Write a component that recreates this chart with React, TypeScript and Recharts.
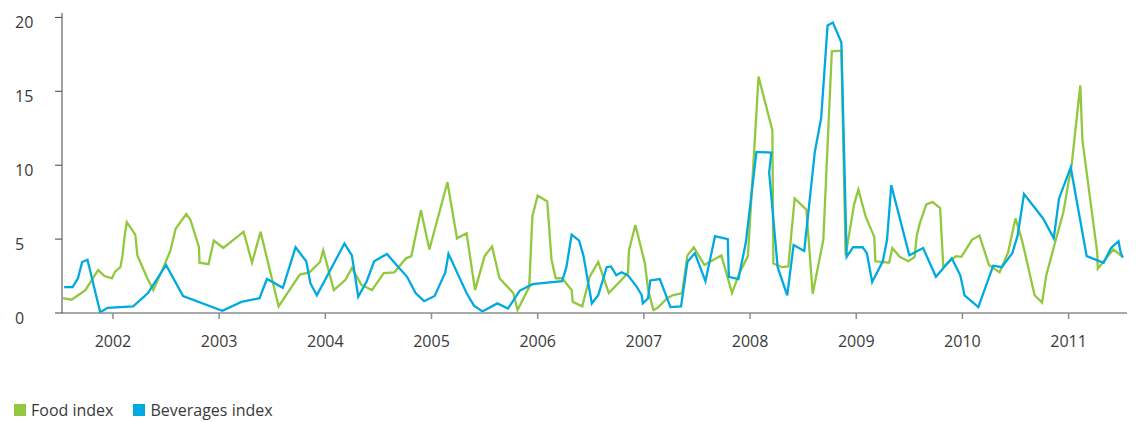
import { LineChart, Line, XAxis, YAxis, Legend } from "recharts";

const yearTicks = [2002, 2003, 2004, 2005, 2006, 2007, 2008, 2009, 2010, 2011];
const valueTicks = [0, 5, 10, 15, 20];

const seriesNames = ["Food index", "Beverages index"];
const seriesColors = ["#92c83e", "#00a9e0"];

// dates as decimal years
const foodDates = [
  2001.53, 2001.61, 2001.74, 2001.86, 2001.92, 2001.99, 2002.02, 2002.07, 2002.09, 2002.11,
  2002.13, 2002.21, 2002.23, 2002.32, 2002.38, 2002.47, 2002.54, 2002.59, 2002.69, 2002.73,
  2002.81, 2002.815, 2002.9, 2002.95, 2003.04, 2003.23, 2003.31, 2003.39, 2003.56, 2003.76,
  2003.85, 2003.95, 2003.98, 2004.08, 2004.19, 2004.25, 2004.34, 2004.44, 2004.55, 2004.65,
  2004.76, 2004.81, 2004.9, 2004.98, 2005.15, 2005.24, 2005.33, 2005.41, 2005.5, 2005.57,
  2005.64, 2005.77, 2005.81, 2005.92, 2005.95, 2006.0, 2006.09, 2006.13, 2006.17, 2006.23,
  2006.32, 2006.33, 2006.42, 2006.49, 2006.57, 2006.67, 2006.85, 2006.86, 2006.92, 2007.01,
  2007.04, 2007.09, 2007.13, 2007.22, 2007.27, 2007.36, 2007.41, 2007.47, 2007.57, 2007.73,
  2007.83, 2007.9, 2007.98, 2008.08, 2008.21, 2008.22, 2008.3, 2008.36, 2008.42, 2008.53,
  2008.55, 2008.59, 2008.69, 2008.77, 2008.86, 2008.9, 2008.98, 2009.02, 2009.09, 2009.17,
  2009.18, 2009.31, 2009.34, 2009.41, 2009.49, 2009.55, 2009.57, 2009.6, 2009.66, 2009.72,
  2009.79, 2009.82, 2009.85, 2009.94, 2009.99, 2010.09, 2010.16, 2010.25, 2010.35, 2010.43,
  2010.5, 2010.56, 2010.68, 2010.75, 2010.79, 2010.87, 2010.95, 2011.03, 2011.11, 2011.13,
  2011.27, 2011.275, 2011.32, 2011.42, 2011.51
];
const foodValues = [
  1.0, 0.9, 1.55, 2.9, 2.5, 2.35, 2.8, 3.1, 3.9, 5.2,
  6.15, 5.3, 3.9, 2.4, 1.55, 3.0, 4.2, 5.7, 6.7, 6.3,
  4.45, 3.4, 3.3, 4.9, 4.4, 5.5, 3.4, 5.5, 0.45, 2.6,
  2.75, 3.45, 4.25, 1.55, 2.25, 3.05, 1.9, 1.55, 2.7, 2.75,
  3.7, 3.85, 6.95, 4.3, 8.85, 5.05, 5.4, 1.55, 3.85, 4.5,
  2.35, 1.35, 0.2, 1.75, 6.55, 7.95, 7.55, 3.6, 2.35, 2.35,
  1.55, 0.75, 0.45, 2.45, 3.45, 1.35, 2.7, 4.25, 5.95, 3.35,
  1.55, 0.2, 0.35, 1.0, 1.2, 1.35, 3.9, 4.45, 3.25, 3.9,
  1.35, 2.7, 3.85, 16.0, 12.35, 3.35, 3.1, 3.15, 7.75, 7.0,
  5.15, 1.3, 4.95, 17.7, 17.75, 3.9, 7.35, 8.35, 6.5, 5.15,
  3.5, 3.4, 4.4, 3.8, 3.5, 3.8, 5.25, 6.1, 7.35, 7.5,
  7.1, 3.1, 3.3, 3.85, 3.8, 4.95, 5.25, 3.25, 2.75, 4.1,
  6.4, 4.95, 1.2, 0.7, 2.55, 4.7, 6.8, 10.1, 15.4, 11.7,
  4.05, 3.0, 3.4, 4.3, 3.8
];

const beverageDates = [
  2001.54, 2001.62, 2001.67, 2001.71, 2001.76, 2001.88, 2001.95, 2002.19, 2002.33, 2002.5,
  2002.66, 2003.03, 2003.21, 2003.38, 2003.45, 2003.6, 2003.72, 2003.82, 2003.86, 2003.92,
  2004.18, 2004.25, 2004.31, 2004.39, 2004.46, 2004.58, 2004.67, 2004.77, 2004.85, 2004.93,
  2005.03, 2005.13, 2005.16, 2005.33, 2005.4, 2005.48, 2005.62, 2005.72, 2005.83, 2005.95,
  2006.23, 2006.27, 2006.32, 2006.39, 2006.43, 2006.51, 2006.57, 2006.65, 2006.69, 2006.74,
  2006.79, 2006.85, 2006.93, 2006.98, 2006.99, 2007.04, 2007.06, 2007.15, 2007.25, 2007.35,
  2007.41, 2007.48, 2007.58, 2007.67, 2007.79, 2007.8, 2007.89, 2007.96, 2008.06, 2008.2,
  2008.18, 2008.26, 2008.35, 2008.41, 2008.51, 2008.61, 2008.67, 2008.73, 2008.78, 2008.86,
  2008.91, 2008.97, 2009.06, 2009.1, 2009.15, 2009.25, 2009.29, 2009.33, 2009.5, 2009.63,
  2009.75, 2009.9, 2009.98, 2010.02, 2010.15, 2010.29, 2010.37, 2010.47, 2010.52, 2010.58,
  2010.76, 2010.86, 2010.91, 2011.02, 2011.17, 2011.33, 2011.4, 2011.47, 2011.49, 2011.51
];
const beverageValues = [
  1.75, 1.75, 2.35, 3.45, 3.6, 0.05, 0.35, 0.45, 1.35, 3.25,
  1.15, 0.15, 0.75, 1.0, 2.3, 1.7, 4.45, 3.5, 2.0, 1.2,
  4.7, 3.9, 1.1, 2.15, 3.5, 4.0, 3.25, 2.45, 1.35, 0.8,
  1.15, 2.75, 4.0, 1.35, 0.5, 0.1, 0.65, 0.3, 1.5, 1.95,
  2.15, 3.1, 5.3, 4.9, 3.9, 0.65, 1.2, 3.1, 3.15, 2.55,
  2.75, 2.55, 1.8, 1.2, 0.65, 1.0, 2.2, 2.3, 0.4, 0.45,
  3.45, 4.05, 2.15, 5.2, 5.0, 2.45, 2.3, 4.75, 10.9, 10.85,
  9.5, 3.1, 1.2, 4.6, 4.2, 10.9, 13.2, 19.45, 19.65, 18.3,
  3.8, 4.45, 4.45, 4.05, 2.1, 3.5, 4.95, 8.65, 3.9, 4.4,
  2.45, 3.7, 2.55, 1.2, 0.4, 3.2, 3.1, 4.05, 5.25, 8.05,
  6.4, 5.05, 7.75, 9.85, 3.85, 3.4, 4.4, 4.85, 4.1, 3.75
];

const foodData = foodDates.map((t, i) => ({ t, v: foodValues[i] }));
const beverageData = beverageDates.map((t, i) => ({ t, v: beverageValues[i] }));

const FONT = "'Open Sans', 'Noto Sans', sans-serif";
const TEXT = "#3a3a3a";

function YearTick({ x, y, payload }: any) {
  return (
    <text x={x} y={y + 28} textAnchor="middle" fill={TEXT} fontSize={16} fontFamily={FONT}>
      {payload.value}
    </text>
  );
}

function ValueTick({ y, payload }: any) {
  return (
    <text x={7} y={y + 11} textAnchor="start" fill={TEXT} fontSize={16} fontFamily={FONT}>
      {payload.value}
    </text>
  );
}

function LegendRow() {
  return (
    <div style={{ display: "flex", alignItems: "center", height: 20, fontFamily: FONT, fontSize: 16, color: TEXT }}>
      {seriesNames.map((name, i) => (
        <div key={name} style={{ display: "flex", alignItems: "center", marginRight: 20 }}>
          <span style={{ width: 12, height: 12, background: seriesColors[i], marginRight: 5, display: "inline-block" }} />
          <span>{name}</span>
        </div>
      ))}
    </div>
  );
}

export default function App() {
  return (
    <div style={{ width: 1128, height: 414 }}>
      <LineChart width={1128} height={414} margin={{ top: 5, right: 9, left: 0, bottom: 49 }}>
        <XAxis
          type="number"
          dataKey="t"
          domain={[2001.52, 2011.55]}
          ticks={yearTicks}
          tick={<YearTick />}
          tickSize={6}
          tickMargin={0}
          height={40}
          stroke="#8c8c8c"
          strokeWidth={1.5}
          allowDuplicatedCategory={false}
        />
        <YAxis
          type="number"
          domain={[0, 20.3]}
          ticks={valueTicks}
          tick={<ValueTick />}
          tickSize={7}
          width={54}
          stroke="#444"
        />
        <Legend
          verticalAlign="bottom"
          align="left"
          content={() => <LegendRow />}
          wrapperStyle={{ left: 6, top: 392, width: 400, height: 20 }}
        />
        <Line
          data={foodData}
          dataKey="v"
          name={seriesNames[0]}
          stroke={seriesColors[0]}
          strokeWidth={2.3}
          dot={false}
          isAnimationActive={false}
        />
        <Line
          data={beverageData}
          dataKey="v"
          name={seriesNames[1]}
          stroke={seriesColors[1]}
          strokeWidth={2.3}
          dot={false}
          isAnimationActive={false}
        />
      </LineChart>
    </div>
  );
}
